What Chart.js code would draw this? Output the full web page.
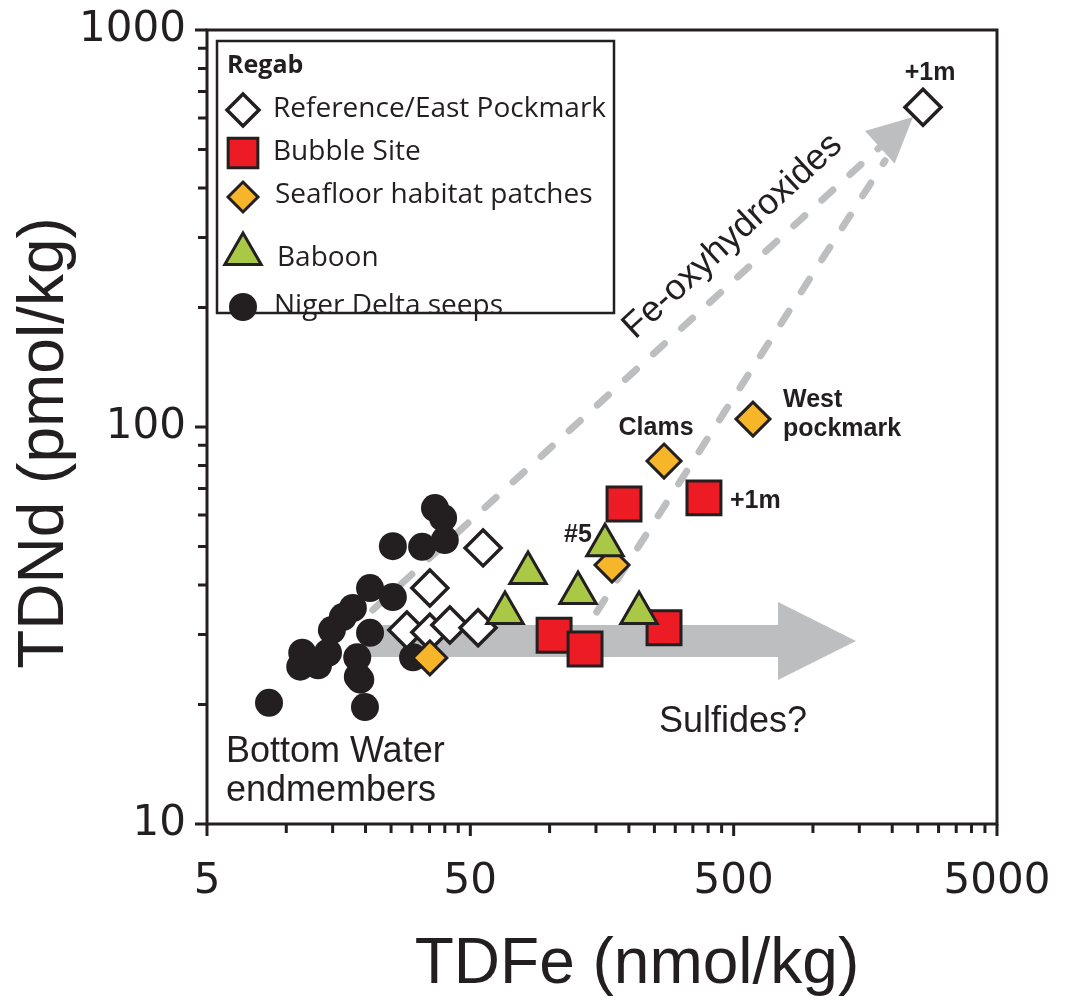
<!DOCTYPE html>
<html>
<head>
<meta charset="utf-8">
<script src="https://cdn.jsdelivr.net/npm/chart.js@4/dist/chart.umd.min.js"></script>
<style>
html, body { margin: 0; padding: 0; background: #fff; }
#wrap { width: 1065px; height: 1002px; }
</style>
</head>
<body>
<div id="wrap"><canvas id="chart" width="1065" height="1002"></canvas></div>
<script>
const INK = '#231f20';
const GREY = '#bcbec0';

// TDFe (nmol/kg) / TDNd (pmol/kg)
const refFe = [55.9, 35.1, 28.7, 35.1, 41.8, 53.5, 2618];
const refNd = [49.6, 39.3, 30.8, 30.4, 31.7, 31.2, 639];
const bubbleFe = [191.7, 385.6, 104, 136.3, 272];
const bubbleNd = [64.0, 66.3, 29.9, 27.6, 31.2];
const patchFe = [272, 592, 172.6, 35.1];
const patchNd = [82.1, 104.7, 44.9, 26.2];
const baboonFe = [162.3, 82.8, 128.2, 67.7, 218.6];
const baboonNd = [50.4, 42.9, 38.2, 34.0, 34.0];
const nigerFe = [8.6, 36.7, 39.4, 40.0, 32.8, 25.4, 20.8, 25.4, 17.9, 16.4, 14.9,
                 20.8, 14.4, 11.5, 11.3, 13.2, 18.6, 18.7, 19.1, 19.9, 30.3];
const nigerNd = [20.2, 62.5, 59.0, 51.9, 49.9, 50.1, 39.3, 37.3, 35.0, 33.2, 30.8,
                 30.3, 27.0, 27.0, 24.9, 25.1, 26.3, 23.5, 23.1, 19.7, 26.3];

const xTicks = [5, 10, 15, 20, 25, 30, 35, 40, 45, 50, 100, 150, 200, 250, 300, 350, 400, 450,
                500, 1000, 1500, 2000, 2500, 3000, 3500, 4000, 4500, 5000];
const xLabels = [5, 50, 500, 5000];
const yTicks = [10, 20, 30, 40, 50, 60, 70, 80, 90, 100, 200, 300, 400, 500, 600, 700, 800, 900, 1000];
const yLabels = [10, 100, 1000];

function pts(xs, ys) {
  return xs.map((v, i) => ({ x: v, y: ys[i] }));
}

// annotations, in data units
const sulfideArrow = { fromFe: 20, headFe: 737, tipFe: 1457, nd: 28.9 };
const feLines = [
  { from: [21.3, 34.6], to: [2399, 604] },
  { from: [151, 34.2], to: [2399, 604] }
];
const pointNotes = [
  { text: '+1m', ds: 0, i: 6, dx: 7, dy: -27, align: 'center' },
  { text: 'Clams', ds: 2, i: 0, dx: -8, dy: -26, align: 'center' },
  { text: 'West', ds: 2, i: 1, dx: 30, dy: -12, align: 'left' },
  { text: 'pockmark', ds: 2, i: 1, dx: 30, dy: 17, align: 'left' },
  { text: '+1m', ds: 1, i: 1, dx: 26, dy: 10, align: 'left' },
  { text: '#5', ds: 3, i: 0, dx: -27, dy: -3, align: 'center' }
];
const freeNotes = [
  { text: 'Sulfides?', fe: 497, nd: 17.05, align: 'center', rot: 0 },
  { text: 'Bottom Water', fe: 5.9, nd: 14.3, align: 'left', rot: 0 },
  { text: 'endmembers', fe: 5.9, nd: 11.4, align: 'left', rot: 0 },
  { text: 'Fe-oxyhydroxides', fe: 211, nd: 165.6, align: 'left', rot: -42.7 }
];

function noPad(s) {
  s.paddingLeft = s.paddingRight = s.paddingTop = s.paddingBottom = 0;
}

const annotations = {
  id: 'annotations',
  beforeDatasetsDraw(chart) {
    const { ctx, scales: { x, y } } = chart;
    ctx.save();
    // sulfide arrow
    const x0 = x.getPixelForValue(sulfideArrow.fromFe);
    const x1 = x.getPixelForValue(sulfideArrow.headFe);
    const x2 = x.getPixelForValue(sulfideArrow.tipFe);
    const yc = y.getPixelForValue(sulfideArrow.nd);
    ctx.fillStyle = GREY;
    ctx.beginPath();
    ctx.moveTo(x0, yc - 16);
    ctx.lineTo(x1, yc - 16);
    ctx.lineTo(x1, yc - 39);
    ctx.lineTo(x2, yc);
    ctx.lineTo(x1, yc + 39);
    ctx.lineTo(x1, yc + 16);
    ctx.lineTo(x0, yc + 16);
    ctx.closePath();
    ctx.fill();

    // dashed Fe-oxyhydroxide trends
    ctx.strokeStyle = GREY;
    ctx.lineWidth = 7;
    ctx.lineCap = 'round';
    ctx.setLineDash([15, 23]);
    let head = null;
    feLines.forEach((l, k) => {
      const ax = x.getPixelForValue(l.from[0]), ay = y.getPixelForValue(l.from[1]);
      const bx = x.getPixelForValue(l.to[0]), by = y.getPixelForValue(l.to[1]);
      const len = Math.hypot(bx - ax, by - ay);
      const ux = (bx - ax) / len, uy = (by - ay) / len;
      const stop = k === 0 ? 44 : 52;
      ctx.beginPath();
      ctx.moveTo(ax, ay);
      ctx.lineTo(bx - ux * stop, by - uy * stop);
      ctx.stroke();
      if (k === 0) head = { bx, by, ux, uy };
    });
    ctx.setLineDash([]);
    const hb = { x: head.bx - head.ux * 45, y: head.by - head.uy * 45 };
    ctx.beginPath();
    ctx.moveTo(head.bx, head.by);
    ctx.lineTo(hb.x - head.uy * 22, hb.y + head.ux * 22);
    ctx.lineTo(hb.x + head.uy * 22, hb.y - head.ux * 22);
    ctx.closePath();
    ctx.fill();
    ctx.restore();
  },
  afterDatasetsDraw(chart) {
    const { ctx, scales: { x, y } } = chart;
    ctx.save();
    ctx.fillStyle = INK;
    ctx.textBaseline = 'alphabetic';
    ctx.font = 'bold 25px "Liberation Sans", Arial, sans-serif';
    pointNotes.forEach(n => {
      const p = chart.data.datasets[n.ds].data[n.i];
      ctx.textAlign = n.align;
      ctx.fillText(n.text, x.getPixelForValue(p.x) + n.dx, y.getPixelForValue(p.y) + n.dy);
    });
    ctx.font = '36px "Liberation Sans", Arial, sans-serif';
    freeNotes.forEach(n => {
      ctx.save();
      ctx.translate(x.getPixelForValue(n.fe), y.getPixelForValue(n.nd));
      ctx.rotate(n.rot * Math.PI / 180);
      ctx.textAlign = n.align;
      ctx.fillText(n.text, 0, 0);
      ctx.restore();
    });
    ctx.restore();
  },
  afterDraw(chart) {
    const { ctx, chartArea: a, scales: { x, y } } = chart;
    ctx.save();
    ctx.strokeStyle = INK;
    ctx.lineWidth = 3;
    ctx.strokeRect(a.left, a.top, a.right - a.left, a.bottom - a.top);
    ctx.beginPath();
    xTicks.forEach(v => {
      const p = x.getPixelForValue(v);
      ctx.moveTo(p, a.bottom);
      ctx.lineTo(p, a.bottom + (xLabels.includes(v) ? 12 : 9));
    });
    yTicks.forEach(v => {
      const p = y.getPixelForValue(v);
      ctx.moveTo(a.left, p);
      ctx.lineTo(a.left - (yLabels.includes(v) ? 12 : 9), p);
    });
    ctx.stroke();

    // axis titles
    ctx.fillStyle = INK;
    ctx.font = '64px "Liberation Sans", Arial, sans-serif';
    ctx.textAlign = 'center';
    ctx.textBaseline = 'alphabetic';
    ctx.fillText('TDFe (nmol/kg)', 637, 983);
    ctx.save();
    ctx.translate(63, 443);
    ctx.rotate(-Math.PI / 2);
    ctx.fillText('TDNd (pmol/kg)', 0, 0);
    ctx.restore();

    // legend box
    const bx = a.left + 10, by = a.top + 11;
    ctx.lineWidth = 2.5;
    ctx.strokeRect(bx, by, 397, 272);
    ctx.textAlign = 'left';
    ctx.font = 'bold 25px "Open Sans", sans-serif';
    ctx.fillText('Regab', bx + 10, by + 32);
    const rows = [
      { ds: 0, r: 16, my: 69, tx: 56, ty: 76 },
      { ds: 1, r: 21, my: 112, tx: 56, ty: 119 },
      { ds: 2, r: 15, my: 156, tx: 58, ty: 162 },
      { ds: 3, r: 21, my: 213, tx: 60, ty: 225 },
      { ds: 4, r: 14, my: 266, tx: 57, ty: 273 }
    ];
    ctx.font = '28px "Open Sans", sans-serif';
    rows.forEach(r => {
      const ds = chart.data.datasets[r.ds];
      ctx.fillStyle = ds.backgroundColor;
      ctx.strokeStyle = ds.borderColor;
      ctx.lineWidth = ds.borderWidth;
      Chart.helpers.drawPoint(ctx, { pointStyle: ds.pointStyle, radius: r.r, rotation: 0, borderWidth: ds.borderWidth }, bx + 26, by + r.my);
      ctx.fillStyle = INK;
      ctx.fillText(ds.label, bx + r.tx, by + r.ty);
    });
    ctx.restore();
  }
};

new Chart(document.getElementById('chart'), {
  type: 'scatter',
  data: {
    datasets: [
      { label: 'Reference/East Pockmark', data: pts(refFe, refNd), pointStyle: 'rectRot', pointRadius: 18,
        backgroundColor: '#ffffff', borderColor: INK, borderWidth: 3.5, order: 3 },
      { label: 'Bubble Site', data: pts(bubbleFe, bubbleNd), pointStyle: 'rect', pointRadius: 24,
        backgroundColor: '#ed1c24', borderColor: INK, borderWidth: 3, order: 2 },
      { label: 'Seafloor habitat patches', data: pts(patchFe, patchNd), pointStyle: 'rectRot', pointRadius: 17,
        backgroundColor: '#f7b52a', borderColor: INK, borderWidth: 3, order: 1 },
      { label: 'Baboon', data: pts(baboonFe, baboonNd), pointStyle: 'triangle', pointRadius: 21,
        backgroundColor: '#a8c846', borderColor: INK, borderWidth: 3, order: 0 },
      { label: 'Niger Delta seeps', data: pts(nigerFe, nigerNd), pointStyle: 'circle', pointRadius: 14,
        backgroundColor: INK, borderColor: INK, borderWidth: 0, order: 4 }
    ]
  },
  options: {
    responsive: false,
    animation: false,
    events: [],
    layout: { padding: { top: 30, right: 68, left: 0, bottom: 0 } },
    plugins: { legend: { display: false }, tooltip: { enabled: false } },
    scales: {
      x: {
        type: 'logarithmic',
        min: 5,
        max: 5000,
        afterBuildTicks: s => { s.ticks = xTicks.map(v => ({ value: v })); },
        afterFit: s => { s.height = 178; noPad(s); },
        grid: { display: false, drawTicks: false },
        border: { display: false },
        ticks: {
          autoSkip: false, maxRotation: 0, minRotation: 0, padding: 33, color: INK,
          font: { family: '"DejaVu Sans", sans-serif', size: 42 },
          callback: v => (xLabels.includes(v) ? String(v) : '')
        }
      },
      y: {
        type: 'logarithmic',
        min: 10,
        max: 1000,
        afterBuildTicks: s => { s.ticks = yTicks.map(v => ({ value: v })); },
        afterFit: s => { s.width = 207; noPad(s); },
        grid: { display: false, drawTicks: false },
        border: { display: false },
        ticks: {
          autoSkip: false, padding: 21, color: INK,
          font: { family: '"DejaVu Sans", sans-serif', size: 42 },
          callback: v => (yLabels.includes(v) ? String(v) : '')
        }
      }
    }
  },
  plugins: [annotations]
});
</script>
</body>
</html>
